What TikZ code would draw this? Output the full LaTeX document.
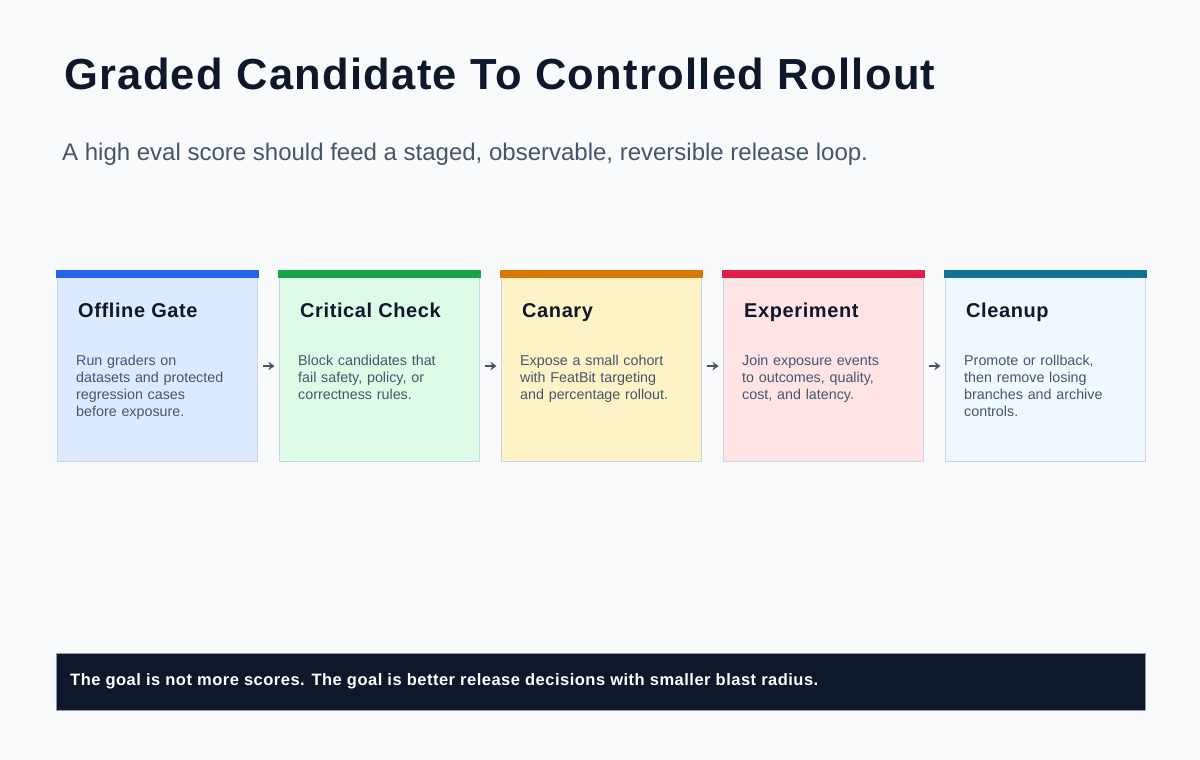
\documentclass[tikz,border=0pt]{standalone}
\usepackage{fontspec}
\setmainfont{Liberation Sans}
\newfontfamily\widefont[LetterSpace=3]{Liberation Sans}
\usepackage{tikz}
\usetikzlibrary{arrows.meta}

\definecolor{pagebg}{HTML}{F8FAFC}
\definecolor{ink}{HTML}{0F172A}
\definecolor{slate}{HTML}{475569}
\definecolor{edge}{HTML}{CBD5E1}
\definecolor{blueTop}{HTML}{2563EB}
\definecolor{blueFill}{HTML}{DBEAFE}
\definecolor{greenTop}{HTML}{16A34A}
\definecolor{greenFill}{HTML}{DCFCE7}
\definecolor{amberTop}{HTML}{D97706}
\definecolor{amberFill}{HTML}{FEF3C7}
\definecolor{redTop}{HTML}{E11D48}
\definecolor{redFill}{HTML}{FFE4E6}
\definecolor{tealTop}{HTML}{0E7490}
\definecolor{tealFill}{HTML}{F0F9FF}

\tikzset{
  card/.style={draw=edge, line width=1.4pt, minimum width=200pt, minimum height=190pt,
    inner sep=0pt, anchor=north west},
  cardtitle/.style={anchor=base west, inner sep=0pt, text=ink,
    font=\widefont\fontsize{20}{23}\selectfont\bfseries},
  cardbody/.style={anchor=north west, inner sep=0pt, text=slate, text width=176pt,
    align=left, font=\fontsize{14.3}{17}\selectfont},
  arr/.style={draw=slate, line width=2pt, -{Stealth[length=6pt,width=8.5pt]},
    shorten <=5pt, shorten >=4pt}
}

\begin{document}
\begin{tikzpicture}[x=1pt,y=-1pt]
  \fill[pagebg] (0,0) rectangle (1200,760);
  \useasboundingbox (0,0) rectangle (1200,760);

  \node[anchor=base west, inner sep=0pt, text=ink, font=\widefont\fontsize{43.5}{48}\selectfont\bfseries]
    (title) at (64,89) {Graded Candidate To Controlled Rollout};
  \node[anchor=base west, inner sep=0pt, text=slate, font=\fontsize{24}{28}\selectfont]
    (subtitle) at (62,160) {A high eval score should feed a staged, observable, reversible release loop.};

  \foreach \i/\name/\top/\fillc/\body in {
      1/Offline Gate/blueTop/blueFill/{Run graders on\\datasets and protected\\regression cases\\before exposure.},
      2/Critical Check/greenTop/greenFill/{Block candidates that\\fail safety, policy, or\\correctness rules.},
      3/Canary/amberTop/amberFill/{Expose a small cohort\\with FeatBit targeting\\and percentage rollout.},
      4/Experiment/redTop/redFill/{Join exposure events\\to outcomes, quality,\\cost, and latency.},
      5/Cleanup/tealTop/tealFill/{Promote or rollback,\\then remove losing\\branches and archive\\controls.}} {
    \pgfmathsetmacro{\xx}{56.5+222*(\i-1)}
    \node[card, fill=\fillc] (c\i) at (\xx,270.5) {};
    \fill[\top] ([shift={(-0.7,-0.7)}]c\i.north west) rectangle ([shift={(0.7,7.5)}]c\i.north east);
    \node[cardtitle] (t\i) at (\xx+21.5,317) {\name};
    \node[cardbody] (b\i) at (\xx+19.5,355) {\body};
  }

  \foreach \i [evaluate=\i as \j using int(\i+1)] in {1,...,4}
    \draw[arr] (c\i.east |- 0,366) -- (c\j.west |- 0,366);

  \node[fill=ink, draw=slate!60, line width=0.8pt, minimum width=1089pt, minimum height=57pt,
    anchor=north west, inner sep=0pt] (goal) at (56,653) {};
  \node[anchor=west, inner sep=0pt, text=white, font=\widefont\fontsize{16.5}{19}\selectfont\bfseries]
    (goaltext) at (70,681) {The goal is not more scores. The goal is better release decisions with smaller blast radius.};
\end{tikzpicture}
\end{document}
